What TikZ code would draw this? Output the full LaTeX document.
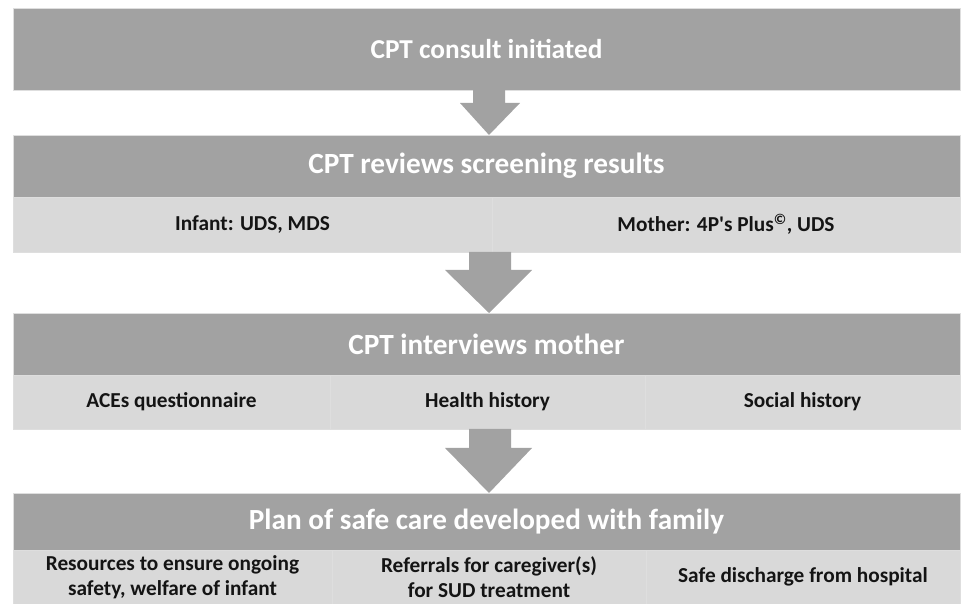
\documentclass[tikz,border=0pt]{standalone}
\usepackage{fontspec}
\setmainfont{Carlito}
\usetikzlibrary{calc}
\definecolor{darkbar}{RGB}{162,162,162}
\definecolor{lightbar}{RGB}{217,217,217}
\definecolor{edgecol}{RGB}{222,222,222}
\definecolor{txt}{RGB}{20,20,20}
\tikzset{
  every node/.style={inner sep=0pt, outer sep=0pt},
  darkbox/.style={fill=darkbar, draw=edgecol, line width=0.8pt, text=white, font=\bfseries, minimum width=947pt, align=center},
  cellbox/.style={fill=lightbar, draw=edgecol, line width=0.8pt, text=txt, font=\bfseries\fontsize{21.3}{25}\selectfont, align=center},
  arrowfill/.style={fill=darkbar, draw=none}
}
\begin{document}
\begin{tikzpicture}[x=1pt,y=1pt]
\useasboundingbox (0,0) rectangle (965,604);
% Step 1
\node[darkbox, minimum height=82pt, font=\bfseries\fontsize{27.3}{31}\selectfont] (t1) at (486.5,555) {CPT consult initiated};
% Step 2
\node[darkbox, minimum height=62pt, font=\bfseries\fontsize{29.3}{33}\selectfont] (t2) at (486.5,438) {CPT reviews screening results};
\node[cellbox, minimum width=479pt, minimum height=55pt] (c21) at (252.5,379.5) {Infant: UDS, MDS};
\node[cellbox, minimum width=468pt, minimum height=55pt] (c22) at (726,379.5) {Mother: 4P\textquotesingle s Plus\textsuperscript{\textcopyright}, UDS};
% Step 3
\node[darkbox, minimum height=62pt, font=\bfseries\fontsize{29.3}{33}\selectfont] (t3) at (486.5,260) {CPT interviews mother};
\node[cellbox, minimum width=317pt, minimum height=54pt] (c31) at (171.5,202) {ACEs questionnaire};
\node[cellbox, minimum width=315pt, minimum height=54pt] (c32) at (487.5,202) {Health history};
\node[cellbox, minimum width=315pt, minimum height=54pt] (c33) at (802.5,202) {Social history};
% Step 4
\node[darkbox, minimum height=57pt, font=\bfseries\fontsize{29.2}{33}\selectfont] (t4) at (486.5,82.5) {Plan of safe care developed with family};
\node[cellbox, minimum width=319pt, minimum height=54pt] (c41) at (172.5,27) {Resources to ensure ongoing\\safety, welfare of infant};
\node[cellbox, minimum width=314pt, minimum height=54pt] (c42) at (489,27) {Referrals for caregiver(s)\\for SUD treatment};
\node[cellbox, minimum width=314pt, minimum height=54pt] (c43) at (803,27) {Safe discharge from hospital};
% Arrows
\fill[arrowfill] ($(t1.south)+(-13.5,0)$) -- ($(t1.south)+(18.5,0)$) -- ($(t1.south)+(18.5,-13)$)
  -- ($(t1.south)+(33.5,-13)$) -- ($(t2.north)+(2.5,0)$) -- ($(t1.south)+(-26.5,-13)$)
  -- ($(t1.south)+(-13.5,-13)$) -- cycle;
\fill[arrowfill] ($(c22.south west)+(-23,0)$) -- ($(c22.south west)+(19,0)$) -- ($(c22.south west)+(19,-18)$)
  -- ($(c22.south west)+(40,-18)$) -- ($(t3.north)+(2.5,0)$) -- ($(c22.south west)+(-47,-18)$)
  -- ($(c22.south west)+(-23,-18)$) -- cycle;
\fill[arrowfill] ($(c32.south)+(-18.5,0)$) -- ($(c32.south)+(23.5,0)$) -- ($(c32.south)+(23.5,-19)$)
  -- ($(c32.south)+(44.5,-19)$) -- ($(t4.north)+(2.5,0)$) -- ($(c32.south)+(-42.5,-19)$)
  -- ($(c32.south)+(-18.5,-19)$) -- cycle;
\end{tikzpicture}
\end{document}
